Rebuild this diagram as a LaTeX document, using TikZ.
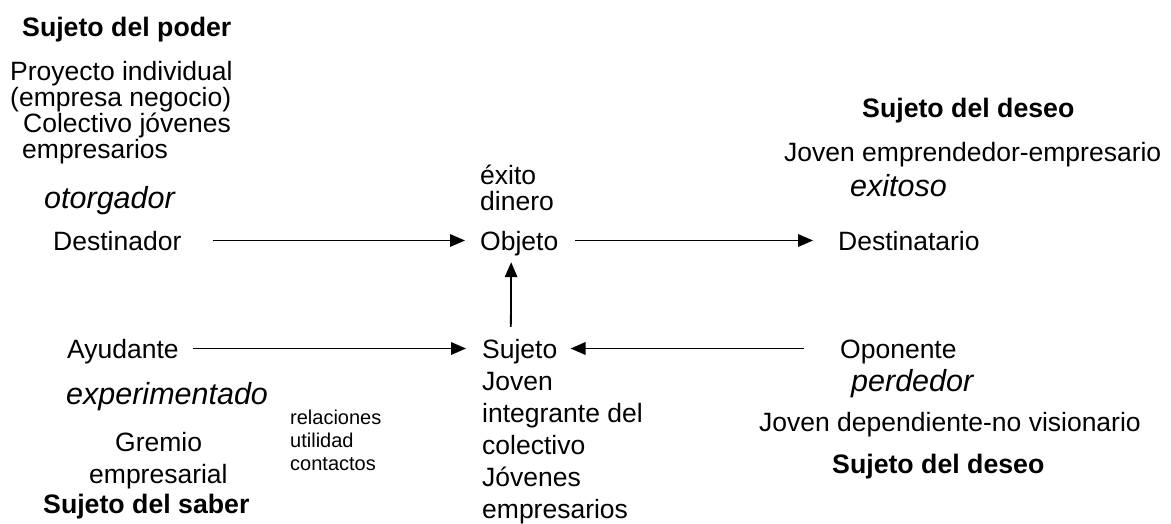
\documentclass[tikz,border=0pt]{standalone}
\usepackage{fontspec}
\setmainfont{Liberation Sans}
\usetikzlibrary{arrows.meta}
\tikzset{
  txt/.style={inner sep=0pt, anchor=base west, text height=19pt, text depth=0pt, font=\fontsize{26.5}{26.5}\selectfont},
  btxt/.style={txt, font=\fontsize{26.7}{26.7}\selectfont\bfseries},
  itxt/.style={txt, font=\fontsize{30.5}{30.5}\selectfont\itshape},
  stxt/.style={inner sep=0pt, anchor=base west, font=\fontsize{20}{20}\selectfont},
  arr/.style={line width=1.8pt, -{Triangle[length=15pt,width=12.5pt]}}
}
\begin{document}
\begin{tikzpicture}[x=1pt,y=-1pt]
\useasboundingbox (0,0) rectangle (1171,523);
% left column
\node[btxt] (sp) at (22,36) {Sujeto del poder};
\node[txt] (p1) at (10,80) {Proyecto individual};
\node[txt] (p2) at (10,106) {(empresa negocio)};
\node[txt] (p3) at (23,132) {Colectivo jóvenes};
\node[txt] (p4) at (22,158) {empresarios};
\node[itxt] (otor) at (44,208) {otorgador};
\node[txt] (destinador) at (53,250) {Destinador};
% middle
\node[txt] (exito) at (480,184) {éxito};
\node[txt] (dinero) at (480,210) {dinero};
\node[txt] (objeto) at (480,250) {Objeto};
\node[txt] (sujeto) at (482,358) {Sujeto};
\node[txt] (s1) at (482,390) {Joven};
\node[txt] (s2) at (482,422) {integrante del};
\node[txt] (s3) at (482,454) {colectivo};
\node[txt] (s4) at (482,486) {Jóvenes};
\node[txt] (s5) at (482,518) {empresarios};
% right column
\node[btxt] (sd1) at (862,117) {Sujeto del deseo};
\node[txt] (jv1) at (784,161) {Joven emprendedor-empresario};
\node[itxt] (exitoso) at (850,196) {exitoso};
\node[txt] (destinatario) at (838,250) {Destinatario};
\node[txt] (oponente) at (840,358) {Oponente};
\node[itxt] (perdedor) at (851,391) {perdedor};
\node[txt] (jv2) at (759,431) {Joven dependiente-no visionario};
\node[btxt] (sd2) at (832,473) {Sujeto del deseo};
% lower left
\node[txt] (ayudante) at (67,358) {Ayudante};
\node[itxt] (exper) at (66,404) {experimentado};
\node[stxt] (rel) at (290,424) {relaciones};
\node[stxt] (uti) at (290,447) {utilidad};
\node[stxt] (con) at (290,470) {contactos};
\node[txt] (gremio) at (115,451) {Gremio};
\node[txt] (empres) at (89,483) {empresarial};
\node[btxt] (ssab) at (43,513) {Sujeto del saber};
% connectors
\draw[arr, shorten <=31pt, shorten >=15pt] (destinador.east) -- (objeto.west);
\draw[arr, shorten <=17pt, shorten >=25pt] (objeto.east) -- (destinatario.west);
\draw[arr, shorten <=14pt, shorten >=16pt] (ayudante.east) -- (sujeto.west);
\draw[arr, shorten <=36pt, shorten >=13pt] (oponente.west) -- (sujeto.east);
\draw[arr, shorten <=12pt, shorten >=12pt] ([xshift=-9pt]sujeto.north) -- ([xshift=-8pt]objeto.south);
\end{tikzpicture}
\end{document}
